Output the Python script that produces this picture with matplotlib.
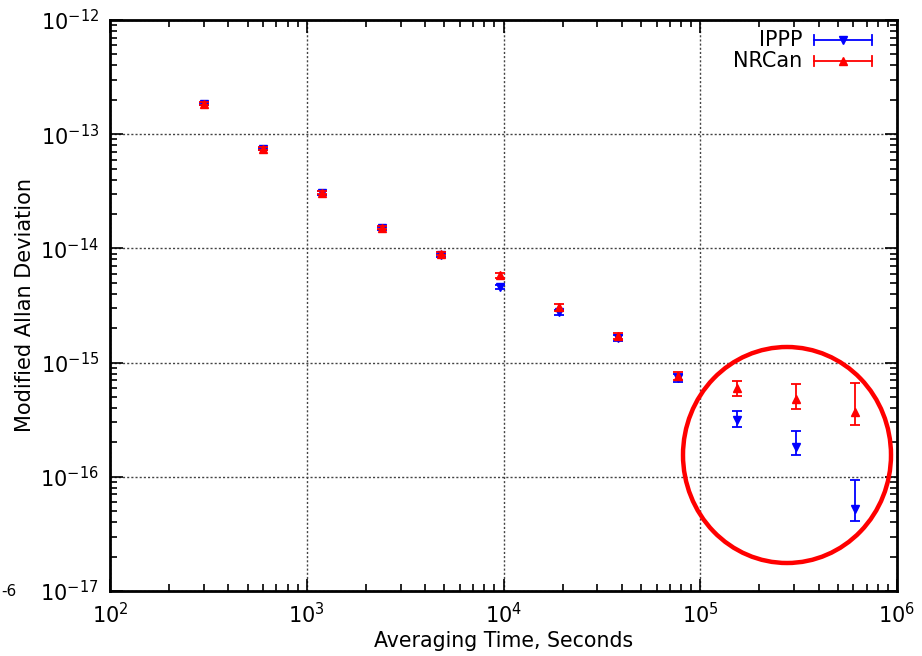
import numpy as np
import matplotlib
matplotlib.use('Agg')
import matplotlib.pyplot as plt
from matplotlib.patches import Ellipse
from matplotlib.lines import Line2D

# Averaging times (s)
tau = [300, 600, 1200, 2400, 4800, 9600, 19200, 38400, 76800, 153600, 307200, 614400]

# IPPP: value, lower, upper
ippp = [1.84e-13, 7.4e-14, 3.05e-14, 1.50e-14, 8.7e-15, 4.6e-15, 2.75e-15, 1.65e-15, 7.3e-16, 3.14e-16, 1.82e-16, 5.2e-17]
ippp_lo = [1.79e-13, 7.2e-14, 2.95e-14, 1.45e-14, 8.4e-15, 4.4e-15, 2.6e-15, 1.55e-15, 6.7e-16, 2.73e-16, 1.55e-16, 4.1e-17]
ippp_hi = [1.89e-13, 7.6e-14, 3.15e-14, 1.55e-14, 9.0e-15, 4.8e-15, 2.9e-15, 1.75e-15, 7.9e-16, 3.77e-16, 2.52e-16, 9.4e-17]

# NRCan: value, lower, upper
nrcan = [1.85e-13, 7.45e-14, 3.08e-14, 1.52e-14, 9.0e-15, 5.8e-15, 3.05e-15, 1.70e-15, 7.6e-16, 6.0e-16, 4.8e-16, 3.7e-16]
nrcan_lo = [1.80e-13, 7.25e-14, 2.98e-14, 1.47e-14, 8.7e-15, 5.5e-15, 2.85e-15, 1.60e-15, 7.0e-16, 5.1e-16, 3.9e-16, 2.85e-16]
nrcan_hi = [1.90e-13, 7.65e-14, 3.18e-14, 1.57e-14, 9.3e-15, 6.1e-15, 3.25e-15, 1.80e-15, 8.2e-16, 6.9e-16, 6.5e-16, 6.6e-16]

fig = plt.figure(figsize=(9.22, 6.56), dpi=100)
ax = fig.add_axes([110/922, 65/656, 787/922, 571/656])

def errs(v, lo, hi):
    v = np.array(v); return [v - np.array(lo), np.array(hi) - v]

ax.errorbar(tau, ippp, yerr=errs(ippp, ippp_lo, ippp_hi), fmt='v', color='#0000ff',
            ms=6, elinewidth=1.3, capsize=3.8, capthick=1.3, zorder=3)
ax.errorbar(tau, nrcan, yerr=errs(nrcan, nrcan_lo, nrcan_hi), fmt='^', color='#ff0000',
            ms=6, elinewidth=1.3, capsize=3.8, capthick=1.3, zorder=4)

ax.set_xscale('log')
ax.set_yscale('log')
ax.set_xlim(1e2, 1e6)
ax.set_ylim(1e-17, 1e-12)
ax.set_xticks([1e2, 1e3, 1e4, 1e5, 1e6])
ax.set_xticklabels([r'$10^{2}$', r'$10^{3}$', r'$10^{4}$', r'$10^{5}$', r'$10^{6}$'])
ax.set_yticks([1e-17, 1e-16, 1e-15, 1e-14, 1e-13, 1e-12])
ax.set_yticklabels([r'$10^{-17}$', r'$10^{-16}$', r'$10^{-15}$', r'$10^{-14}$', r'$10^{-13}$', r'$10^{-12}$'])
ax.tick_params(which='both', direction='in', top=True, right=True, labelsize=15, width=1.2)
ax.tick_params(which='major', length=9, pad=8)
ax.tick_params(which='minor', length=5)
ax.grid(True, which='major', linestyle=(0, (1.5, 1.5)), color='#444444', linewidth=1)
for s in ax.spines.values():
    s.set_linewidth(2)

ax.set_xlabel('Averaging Time, Seconds', fontsize=14.8, labelpad=3)
ax.set_ylabel('Modified Allan Deviation', fontsize=15, labelpad=4)

# gnuplot-style key
tr = fig.transFigure
for y, col, mk, lab in [(40, '#0000ff', 'v', 'IPPP'), (61, '#ff0000', '^', 'NRCan')]:
    yf = 1 - y/656
    fig.add_artist(Line2D([814/922, 872/922], [yf, yf], color=col, lw=1.3, transform=tr))
    for xc in (814, 872):
        fig.add_artist(Line2D([xc/922, xc/922], [yf - 5/656, yf + 5/656], color=col, lw=1.3, transform=tr))
    fig.add_artist(Line2D([843/922], [yf], marker=mk, color=col, ms=6, transform=tr))
    fig.text(802/922, yf, lab, ha='right', va='center', fontsize=15)

# highlight circle
ax_circle = Ellipse((787/922, 1 - 455/656), 208/922, 216/656, transform=tr,
                    fill=False, edgecolor='#ff0000', linewidth=3.2, zorder=10)
fig.add_artist(ax_circle)

fig.text(1/922, 1 - 592/656, '-6', ha='left', va='center', fontsize=11)

fig.savefig('out.png', dpi=100)
